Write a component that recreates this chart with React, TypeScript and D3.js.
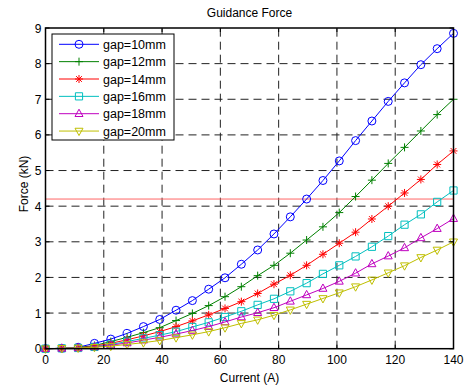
import React from 'react';
import * as d3 from 'd3';

// current samples: 26 points, 0..140 A
const current = d3.range(26).map(k => k * 5.6);

const gap10 = [0, 0.01, 0.04, 0.15, 0.27, 0.43, 0.62, 0.82, 1.08, 1.35, 1.67, 1.99, 2.37, 2.77, 3.22, 3.70, 4.20, 4.72, 5.27, 5.84, 6.39, 6.94, 7.46, 7.97, 8.42, 8.85];
const gap12 = [0, 0.01, 0.03, 0.09, 0.20, 0.32, 0.45, 0.59, 0.79, 0.99, 1.21, 1.46, 1.74, 2.05, 2.34, 2.68, 3.05, 3.42, 3.82, 4.27, 4.73, 5.20, 5.65, 6.11, 6.57, 7.00];
const gap14 = [0, 0.01, 0.02, 0.07, 0.15, 0.25, 0.36, 0.48, 0.62, 0.78, 0.95, 1.13, 1.32, 1.55, 1.81, 2.06, 2.34, 2.65, 2.96, 3.27, 3.64, 4.00, 4.37, 4.75, 5.17, 5.55];
const gap16 = [0, 0.01, 0.02, 0.05, 0.12, 0.20, 0.29, 0.38, 0.48, 0.61, 0.74, 0.89, 1.05, 1.23, 1.40, 1.61, 1.84, 2.10, 2.34, 2.59, 2.86, 3.16, 3.48, 3.77, 4.12, 4.44];
const gap18 = [0, 0.01, 0.02, 0.05, 0.10, 0.16, 0.24, 0.32, 0.41, 0.51, 0.62, 0.75, 0.89, 1.01, 1.15, 1.33, 1.51, 1.69, 1.89, 2.12, 2.38, 2.60, 2.83, 3.11, 3.37, 3.65];
const gap20 = [0, 0.01, 0.02, 0.04, 0.07, 0.12, 0.17, 0.23, 0.31, 0.39, 0.48, 0.59, 0.71, 0.81, 0.94, 1.09, 1.25, 1.41, 1.57, 1.74, 1.93, 2.13, 2.33, 2.56, 2.77, 3.00];

const seriesNames = ['gap=10mm', 'gap=12mm', 'gap=14mm', 'gap=16mm', 'gap=18mm', 'gap=20mm'];
const seriesValues = [gap10, gap12, gap14, gap16, gap18, gap20];
const seriesColors = ['#0000ff', '#008000', '#ff0000', '#00bfbf', '#bf00bf', '#bfbf00'];
const seriesMarkers = ['circle', 'plus', 'star', 'square', 'triUp', 'triDown'];

const xTicks = [0, 20, 40, 60, 80, 100, 120, 140];
const yTicks = [0, 1, 2, 3, 4, 5, 6, 7, 8, 9];
const refLine = 4.2;

const W = 465;
const H = 387;
const margin = { left: 45.5, right: 11.5, top: 28, bottom: 38.3 };

const x = d3.scaleLinear().domain([0, 140]).range([margin.left, W - margin.right]);
const y = d3.scaleLinear().domain([0, 9]).range([H - margin.bottom, margin.top]);

const markerPath = (type: string, cx: number, cy: number) => {
  const p = d3.path();
  const r = 4;
  if (type === 'circle') {
    p.moveTo(cx + r, cy);
    p.arc(cx, cy, r, 0, Math.PI * 2);
  } else if (type === 'plus') {
    p.moveTo(cx - r, cy); p.lineTo(cx + r, cy);
    p.moveTo(cx, cy - r); p.lineTo(cx, cy + r);
  } else if (type === 'star') {
    p.moveTo(cx - r, cy); p.lineTo(cx + r, cy);
    p.moveTo(cx, cy - r); p.lineTo(cx, cy + r);
    const d = r * 0.72;
    p.moveTo(cx - d, cy - d); p.lineTo(cx + d, cy + d);
    p.moveTo(cx - d, cy + d); p.lineTo(cx + d, cy - d);
  } else if (type === 'square') {
    const s = 3.6;
    p.rect(cx - s, cy - s, s * 2, s * 2);
  } else if (type === 'triUp') {
    p.moveTo(cx, cy - r - 0.5); p.lineTo(cx + r, cy + r * 0.7); p.lineTo(cx - r, cy + r * 0.7); p.closePath();
  } else {
    p.moveTo(cx, cy + r + 0.5); p.lineTo(cx + r, cy - r * 0.7); p.lineTo(cx - r, cy - r * 0.7); p.closePath();
  }
  return p.toString();
};

const line = d3.line<number>().x((_, i) => x(current[i])).y(v => y(v));

export default function App() {
  const x0 = x.range()[0], x1 = x.range()[1];
  const yb = y.range()[0], yt = y.range()[1];
  const font = 'Liberation Sans, Arial, Helvetica, sans-serif';
  const legX = 52, legY = 34, legW = 122, legH = 106;
  return (
    <svg width={W} height={H} style={{ position: 'absolute', left: 0, top: 0, background: '#fff' }} fontFamily={font}>
      <rect x={0} y={0} width={W} height={H} fill="#fff" />
      {/* grid */}
      <g stroke="#222" strokeWidth={1} strokeDasharray="8,5">
        {xTicks.slice(1, -1).map(t => <line key={'gx' + t} x1={x(t)} x2={x(t)} y1={yb} y2={yt} />)}
        {yTicks.slice(1, -1).map(t => <line key={'gy' + t} x1={x0} x2={x1} y1={y(t)} y2={y(t)} />)}
      </g>
      {/* reference line */}
      <line x1={x0} x2={x1} y1={y(refLine)} y2={y(refLine)} stroke="#ff6666" strokeWidth={1} />
      {/* series */}
      {seriesValues.map((vals, si) => (
        <g key={seriesNames[si]}>
          <path d={line(vals) || ''} fill="none" stroke={seriesColors[si]} strokeWidth={1} />
          {vals.map((v, i) => (
            <path key={i} d={markerPath(seriesMarkers[si], x(current[i]), y(v))} fill="none" stroke={seriesColors[si]} strokeWidth={1} />
          ))}
        </g>
      ))}
      {/* frame and ticks */}
      <rect x={x0} y={yt} width={x1 - x0} height={yb - yt} fill="none" stroke="#000" strokeWidth={1.5} />
      <g stroke="#000" strokeWidth={1}>
        {xTicks.map(t => (
          <g key={'tx' + t}>
            <line x1={x(t)} x2={x(t)} y1={yb} y2={yb - 4} />
            <line x1={x(t)} x2={x(t)} y1={yt} y2={yt + 4} />
          </g>
        ))}
        {yTicks.map(t => (
          <g key={'ty' + t}>
            <line x1={x0} x2={x0 + 4} y1={y(t)} y2={y(t)} />
            <line x1={x1} x2={x1 - 4} y1={y(t)} y2={y(t)} />
          </g>
        ))}
      </g>
      <g fontSize={12} fill="#000">
        {xTicks.map(t => (
          <text key={'lx' + t} x={x(t)} y={yb + 14.8} textAnchor="middle">{t}</text>
        ))}
        {yTicks.map(t => (
          <text key={'ly' + t} x={x0 - 4} y={y(t) + 4.5} textAnchor="end">{t}</text>
        ))}
        <text x={(x0 + x1) / 2} y={381.5} textAnchor="middle">Current (A)</text>
        <text x={(x0 + x1) / 2} y={17} textAnchor="middle">Guidance Force</text>
        <text transform={`translate(27.5,184) rotate(-90)`} textAnchor="middle">Force (kN)</text>
      </g>
      {/* legend */}
      <rect x={legX} y={legY} width={legW} height={legH} fill="#fff" stroke="#000" strokeWidth={1} />
      {seriesNames.map((name, si) => {
        const ly = 44.3 + si * 17.35;
        return (
          <g key={'leg' + si}>
            <line x1={59} x2={99} y1={ly} y2={ly} stroke={seriesColors[si]} strokeWidth={1} />
            <path d={markerPath(seriesMarkers[si], 79, ly)} fill="none" stroke={seriesColors[si]} strokeWidth={1} />
            <text x={103} y={ly + 4.5} fontSize={12.5} fill="#000">{name}</text>
          </g>
        );
      })}
    </svg>
  );
}
